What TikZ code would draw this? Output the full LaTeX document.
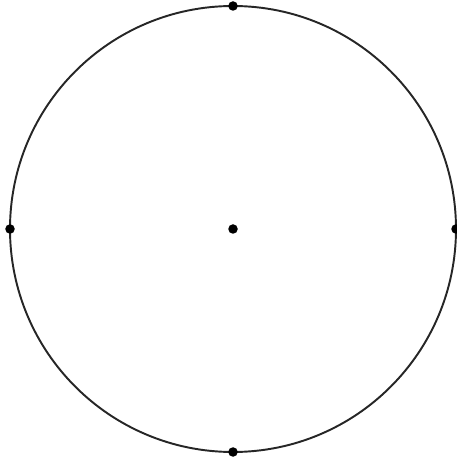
\documentclass[tikz,border=0pt]{standalone}
\usetikzlibrary{positioning, calc}
\tikzset{
    rim line/.style={draw=black!85, line width=1.1pt},
    point dot/.style={circle, fill=black, inner sep=0pt, minimum size=0.19cm},
}

\begin{document}
\begin{tikzpicture}
    \useasboundingbox (0,0) rectangle (9.12,9.18);
    \coordinate (O) at (4.66,4.6);
    \draw[rim line] (O) circle (4.46);
    \node[point dot] (centre) at (O) {};
    \foreach \name/\ang in {east/0, north/90, west/180, south/270} {
        \node[point dot] (\name) at ($(O)+(\ang:4.46)$) {};
    }
\end{tikzpicture}
\end{document}
